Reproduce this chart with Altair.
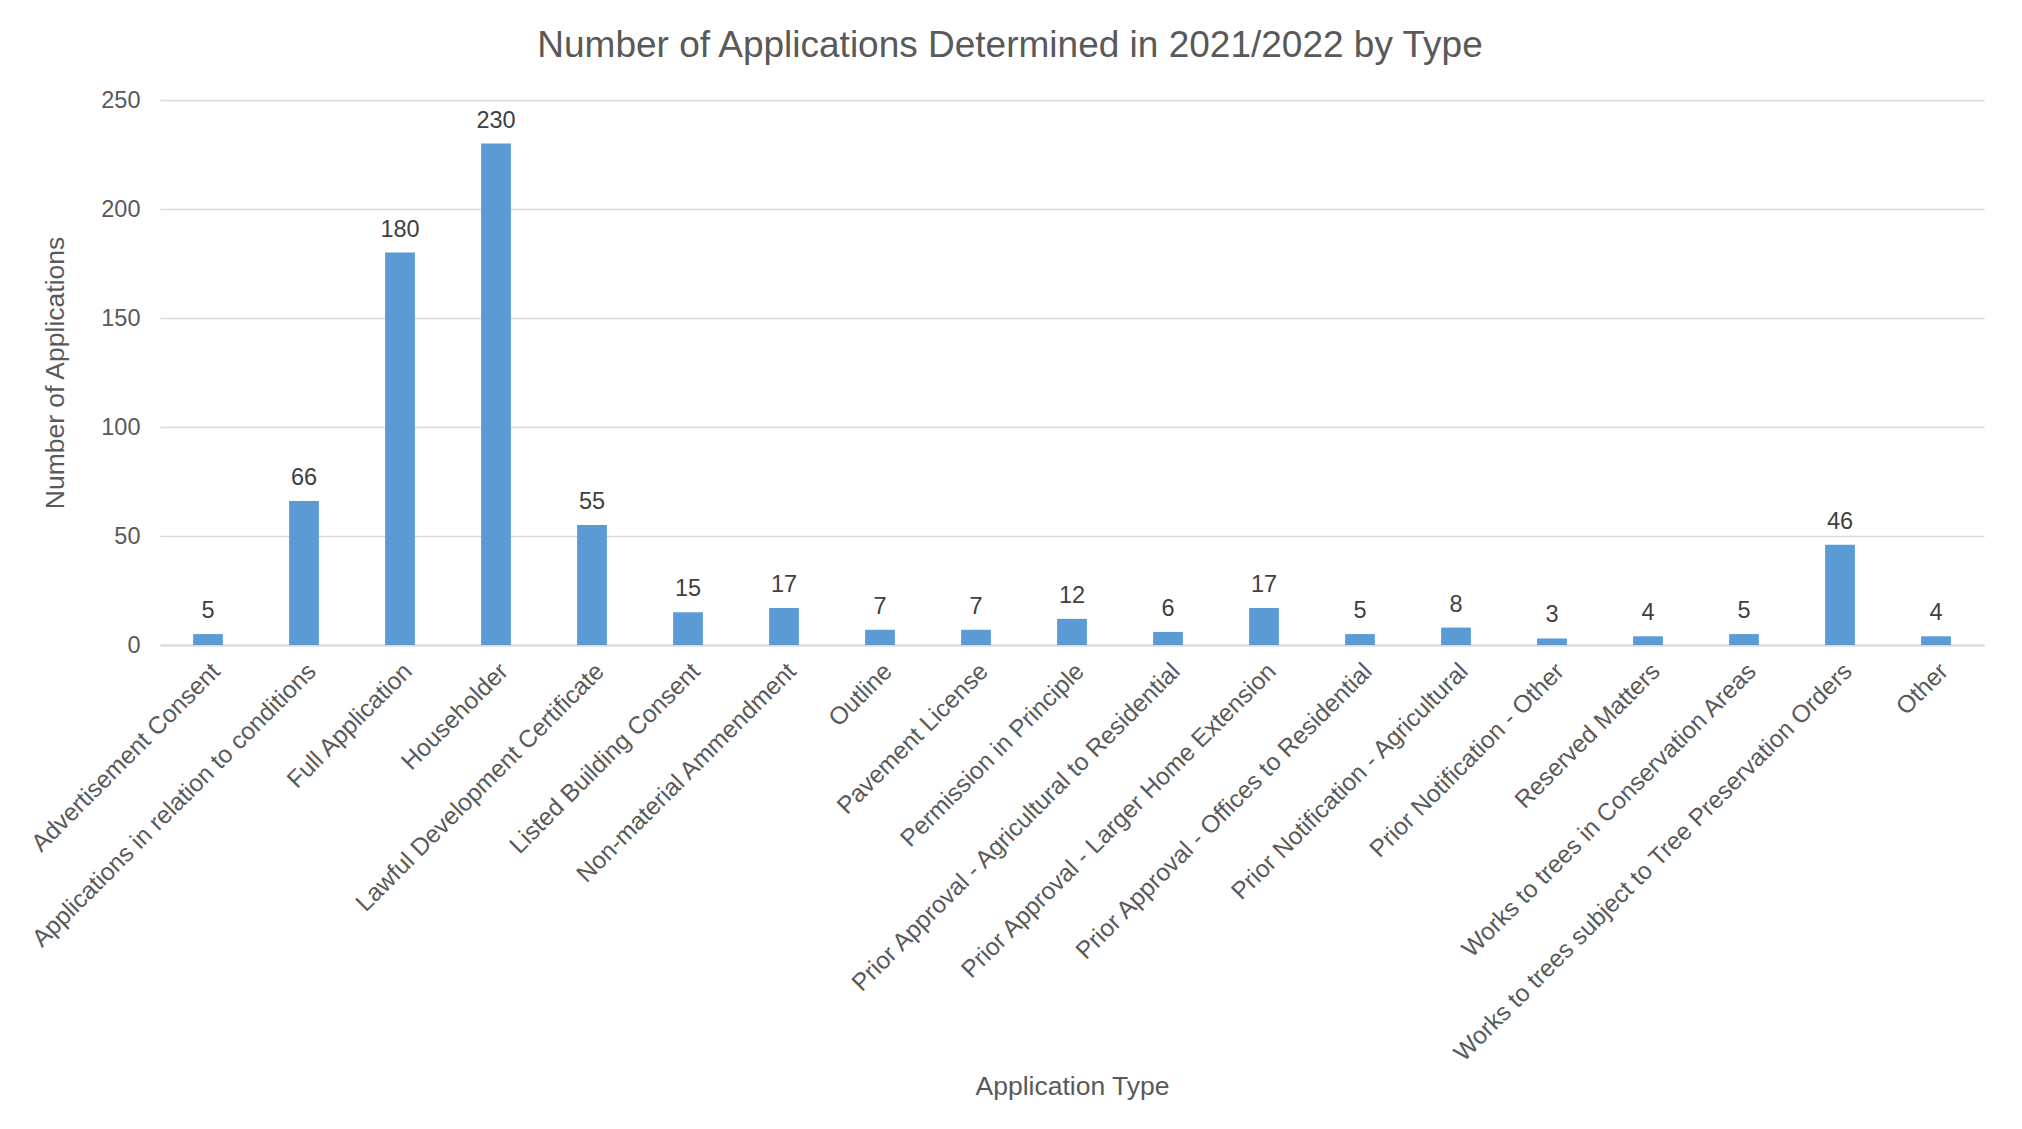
import altair as alt
import pandas as pd

categories = [
    "Advertisement Consent",
    "Applications in relation to conditions",
    "Full Application",
    "Householder",
    "Lawful Development Certificate",
    "Listed Building Consent",
    "Non-material Ammendment",
    "Outline",
    "Pavement License",
    "Permission in Principle",
    "Prior Approval - Agricultural to Residential",
    "Prior Approval - Larger Home Extension",
    "Prior Approval - Offices to Residential",
    "Prior Notification - Agricultural",
    "Prior Notification - Other",
    "Reserved Matters",
    "Works to trees in Conservation Areas",
    "Works to trees subject to Tree Preservation Orders",
    "Other",
]
values = [5, 66, 180, 230, 55, 15, 17, 7, 7, 12, 6, 17, 5, 8, 3, 4, 5, 46, 4]
y_ticks = [0, 50, 100, 150, 200, 250]

df = pd.DataFrame({"type": categories, "count": values})

FONT = "Liberation Sans"
TXT = "#595959"
GRID = "#D9D9D9"

W, H = 1824, 545

x_enc = alt.X(
    "type:N",
    sort=None,
    scale=alt.Scale(paddingInner=0.69, paddingOuter=0.345),
    axis=alt.Axis(
        title="Application Type",
        labelAngle=-45,
        labelAlign="right",
        labelBaseline="top",
        labelPadding=14,
        labelFontSize=24.5,
        labelColor=TXT,
        labelFont=FONT,
        labelLimit=2000,
        ticks=False,
        grid=False,
        domainColor=GRID,
        domainWidth=2,
        titleFont=FONT,
        titleFontSize=26.5,
        titleFontWeight="normal",
        titleColor=TXT,
        titleX=W / 2,
        titleY=441,
        titleBaseline="middle",
        titleAlign="center",
    ),
)
y_scale = alt.Scale(domain=[0, 250], nice=False)
y_enc = alt.Y(
    "count:Q",
    scale=y_scale,
    axis=alt.Axis(
        title="Number of Applications",
        values=y_ticks,
        domain=False,
        ticks=False,
        grid=True,
        gridColor=GRID,
        gridWidth=1.5,
        labelPadding=20,
        labelFontSize=23.5,
        labelColor=TXT,
        labelFont=FONT,
        titleFont=FONT,
        titleFontSize=26.5,
        titleFontWeight="normal",
        titleColor=TXT,
        titleX=-105,
        titleY=H / 2,
        titleBaseline="middle",
        titleAlign="center",
        titleAngle=270,
    ),
)

bars = alt.Chart(df).mark_bar(color="#5B9BD5").encode(x=x_enc, y=y_enc)
labels = alt.Chart(df).mark_text(
    baseline="alphabetic", dy=-16, fontSize=23.5, font=FONT, color="#404040"
).encode(
    x=alt.X("type:N", sort=None),
    y=alt.Y("count:Q", scale=y_scale),
    text="count:Q",
)

chart = (
    alt.layer(bars, labels)
    .properties(
        width=W,
        height=H,
        view=alt.ViewBackground(strokeWidth=0, stroke="transparent"),
        title=alt.TitleParams(
            "Number of Applications Determined in 2021/2022 by Type",
            font=FONT,
            fontSize=37,
            fontWeight="normal",
            color=TXT,
            anchor="middle",
            baseline="bottom",
            offset=-14,
            dx=-62,
        ),
        autosize=alt.AutoSizeParams(type="none"),
        padding={"left": 152, "top": 92, "right": 30, "bottom": 470},
    )
    .configure_view(strokeWidth=0, stroke="transparent")
    .configure(background="white")
)

chart.save("out.html", embed_options={"renderer": "svg", "actions": False})
